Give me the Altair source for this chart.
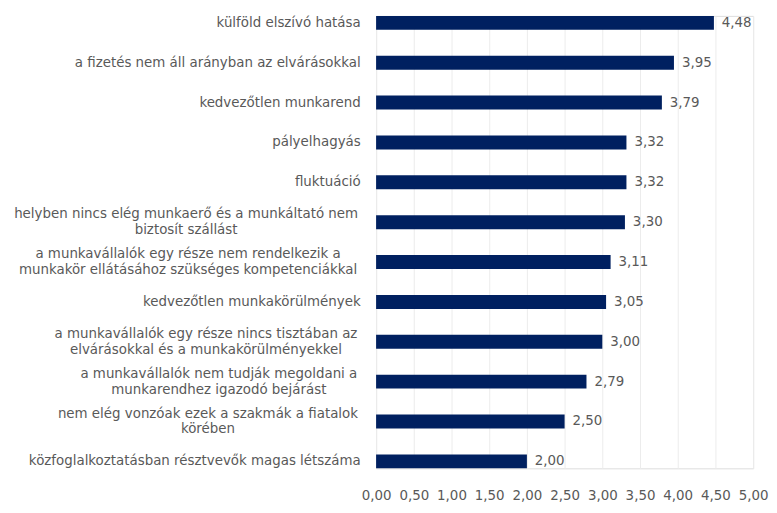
import altair as alt
import pandas as pd

categories = [
    "külföld elszívó hatása",
    "a fizetés nem áll arányban az elvárásokkal",
    "kedvezőtlen munkarend",
    "pályelhagyás",
    "fluktuáció ",
    "helyben nincs elég munkaerő és a munkáltató nem|biztosít szállást",
    "a munkavállalók egy része nem rendelkezik a|munkakör ellátásához szükséges kompetenciákkal",
    "kedvezőtlen munkakörülmények",
    "a munkavállalók egy része nincs tisztában az|elvárásokkal és a munkakörülményekkel",
    "a munkavállalók nem tudják megoldani a|munkarendhez igazodó bejárást",
    "nem elég vonzóak ezek a szakmák a fiatalok|körében",
    "közfoglalkoztatásban résztvevők magas létszáma",
]
values = [4.48, 3.95, 3.79, 3.32, 3.32, 3.30, 3.11, 3.05, 3.00, 2.79, 2.50, 2.00]
x_ticks = [0, 0.5, 1, 1.5, 2, 2.5, 3, 3.5, 4, 4.5, 5]

df = pd.DataFrame({"cat": categories, "val": values})

FONT = "DejaVu Sans"
FS = 13.5
GRAY = "#595959"
NAVY = "#002060"

two_line = "indexof(datum.label, '|') >= 0"

y_axis = alt.Axis(
    title=None,
    ticks=False,
    domain=False,
    labelFont=FONT,
    labelFontSize=FS,
    labelColor=GRAY,
    labelLimit=450,
    labelLineHeight=16,
    labelExpr="split(datum.label, '|')",
    labelAlign={"condition": {"test": two_line, "value": "center"}, "value": "right"},
    labelOffset={"condition": {"test": two_line, "value": -8}, "value": 0},
    labelPadding={
        "condition": [
            {"test": "indexof(datum.label, 'helyben') >= 0", "value": 192},
            {"test": "indexof(datum.label, 'rendelkezik') >= 0", "value": 190},
            {"test": "indexof(datum.label, 'tisztában') >= 0", "value": 172},
            {"test": "indexof(datum.label, 'tudják') >= 0", "value": 159},
            {"test": "indexof(datum.label, 'vonzóak') >= 0", "value": 170},
        ],
        "value": 16,
    },
)

x_axis = alt.Axis(
    title=None,
    values=x_ticks,
    ticks=False,
    domain=False,
    grid=True,
    gridColor="#ececec",
    gridWidth=1,
    labelFont=FONT,
    labelFontSize=FS,
    labelColor=GRAY,
    labelPadding=20,
    labelOverlap=False,
    labelFlush=False,
    labelExpr="replace(format(datum.value, '.2f'), '.', ',')",
)

y_enc = alt.Y(
    "cat:N",
    sort=categories,
    scale=alt.Scale(paddingInner=0.65, paddingOuter=0.0),
    axis=y_axis,
)
x_enc = alt.X("val:Q", scale=alt.Scale(domain=[0, 5], nice=False), axis=x_axis)

bars = alt.Chart(df).mark_bar(color=NAVY).encode(y=y_enc, x=x_enc)

text = (
    alt.Chart(df)
    .transform_calculate(lbl="replace(format(datum.val, '.2f'), '.', ',')")
    .mark_text(align="left", baseline="middle", dx=8, font=FONT, fontSize=FS, color=GRAY)
    .encode(y=y_enc, x=x_enc, text="lbl:N")
)

chart = (
    alt.layer(bars, text)
    .properties(width=380, height=456, padding={"left": 5, "top": 5, "right": 0, "bottom": 2})
    .configure_view(stroke=None)
    .configure(background="white")
)

chart.save("out.html", embed_options={"renderer": "svg", "actions": False})
